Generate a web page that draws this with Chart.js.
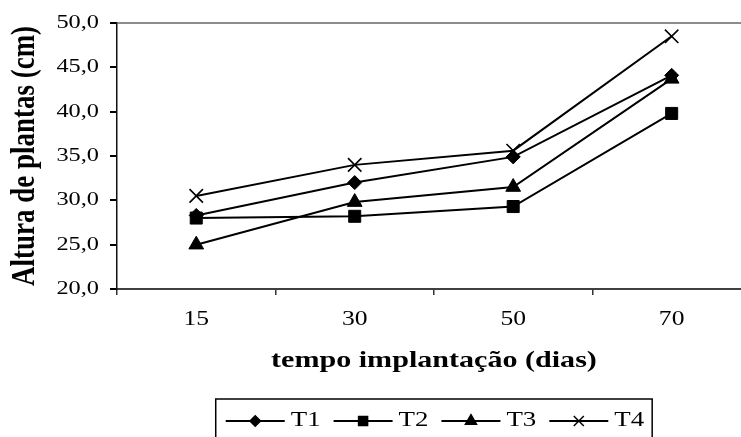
<!DOCTYPE html>
<html>
<head>
<meta charset="utf-8">
<script src="https://cdn.jsdelivr.net/npm/chart.js"></script>
<style>
  html, body { margin: 0; padding: 0; overflow: hidden; background: #fff; }
  canvas { display: block; }
</style>
</head>
<body>
<canvas id="chart" width="762" height="437"></canvas>
<script>
const days = ['15', '30', '50', '70'];
const seriesNames = ['T1', 'T2', 'T3', 'T4'];
const t1 = [28.3, 32.0, 34.9, 44.1];
const t2 = [28.0, 28.2, 29.3, 39.8];
const t3 = [25.0, 29.8, 31.5, 43.7];
const t4 = [30.5, 34.0, 35.6, 48.5];
const markers = ['rectRot', 'rect', 'triangle', 'crossRot'];
const markerSizes = [7, 8.5, 8.5, 9.5];

const SERIF = '"Liberation Serif", "Times New Roman", serif';
const STRETCH = 1.28; // text in the original is drawn wide

Chart.defaults.font.family = SERIF;
Chart.defaults.color = '#000';

// widen every piece of text horizontally (device space), around its anchor
const wideText = {
  id: 'wideText',
  beforeInit(chart) {
    const ctx = chart.ctx;
    const fill = ctx.fillText;
    ctx.fillText = function (text, x, y, maxWidth) {
      const m = this.getTransform();
      const p = m.transformPoint({ x, y });
      const t = new DOMMatrix().translate(p.x, p.y).scale(STRETCH, 1).translate(-p.x, -p.y).multiply(m);
      this.save();
      this.setTransform(t);
      fill.call(this, text, x, y);
      this.restore();
    };
  }
};

// boxed legend with the line running through the marker
const boxLegend = {
  id: 'boxLegend',
  afterDraw(chart) {
    const { ctx, chartArea } = chart;
    const sets = chart.data.datasets;
    const lineLen = 59, gap = 6, spacing = 13;

    ctx.save();
    ctx.font = '21px ' + SERIF;
    const widths = sets.map(ds => ctx.measureText(ds.label).width * STRETCH);
    const content = widths.reduce((s, w) => s + lineLen + gap + w, 0) + spacing * (sets.length - 1);
    const boxW = content + 18;
    const boxLeft = (chartArea.left + chartArea.right) / 2 - boxW / 2;
    const boxTop = 399;

    ctx.strokeStyle = '#000';
    ctx.lineWidth = 1.5;
    ctx.strokeRect(boxLeft, boxTop, boxW, 80);

    let x = boxLeft + 10;
    const y = boxTop + 22;
    sets.forEach((ds, i) => {
      ctx.beginPath();
      ctx.moveTo(x, y);
      ctx.lineTo(x + lineLen, y);
      ctx.lineWidth = 2;
      ctx.strokeStyle = '#000';
      ctx.stroke();

      ctx.fillStyle = '#000';
      ctx.lineWidth = 1.5;
      Chart.helpers.drawPoint(ctx, {
        pointStyle: ds.pointStyle,
        radius: ds.pointRadius * 0.75,
        borderWidth: 1.5,
        rotation: 0
      }, x + lineLen / 2, y);

      ctx.textAlign = 'left';
      ctx.textBaseline = 'alphabetic';
      ctx.fillText(ds.label, x + lineLen + gap, y + 5);
      x += lineLen + gap + widths[i] + spacing;
    });
    ctx.restore();
  }
};

const values = [t1, t2, t3, t4];

new Chart(document.getElementById('chart'), {
  type: 'line',
  data: {
    labels: days,
    datasets: seriesNames.map((name, i) => ({
      label: name,
      data: values[i],
      borderColor: '#000',
      backgroundColor: '#000',
      borderWidth: 2,
      pointStyle: markers[i],
      pointRadius: markerSizes[i],
      pointBorderWidth: markers[i] === 'crossRot' ? 1.6 : 1,
      pointBackgroundColor: '#000',
      pointBorderColor: '#000',
      tension: 0
    }))
  },
  options: {
    responsive: false,
    animation: false,
    layout: {
      padding: { top: 23, right: 1, bottom: 48, left: 0 }
    },
    plugins: {
      legend: { display: false },
      tooltip: { enabled: false }
    },
    scales: {
      x: {
        offset: true,
        grid: {
          offset: true,
          drawOnChartArea: false,
          tickLength: 6,
          tickColor: '#333',
          lineWidth: 1.5
        },
        border: { color: '#404040', width: 2 },
        ticks: {
          font: { size: 20 },
          padding: 13
        },
        title: {
          display: true,
          text: 'tempo implantação (dias)',
          font: { size: 23.5, weight: 'bold' },
          padding: { top: 0, bottom: 14 }
        },
        afterFit(scale) { scale.height = 100; }
      },
      y: {
        min: 20,
        max: 50,
        ticks: {
          stepSize: 5,
          font: { size: 19 },
          padding: 11,
          callback: v => v.toFixed(1).replace('.', ',')
        },
        grid: {
          color: c => c.tick && c.tick.value === 50 ? '#8c8c8c' : 'rgba(0,0,0,0)',
          lineWidth: 2,
          tickColor: '#000',
          tickLength: 7
        },
        border: { color: '#111', width: 1.5 },
        title: {
          display: true,
          text: 'Altura de plantas (cm)',
          font: { size: 27, weight: 'bold' },
          padding: { top: 9, bottom: 0 }
        },
        afterFit(scale) { scale.width = 117; }
      }
    }
  },
  plugins: [wideText, boxLegend]
});
</script>
</body>
</html>
